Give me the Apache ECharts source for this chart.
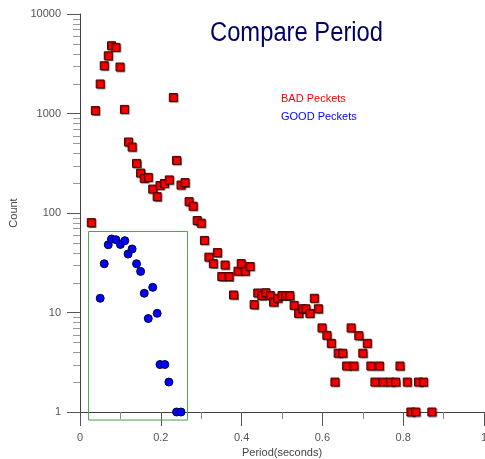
<!DOCTYPE html>
<html>
<head>
<meta charset="utf-8">
<script src="https://cdn.jsdelivr.net/npm/echarts@6/dist/echarts.min.js"></script>
<style>
  html, body { margin: 0; padding: 0; background: #fff; }
  #chart { width: 485px; height: 459px; }
</style>
</head>
<body>
<div id="chart"></div>
<script>
// BAD packets (red squares)
var badX = [0.028, 0.038, 0.050, 0.060, 0.070, 0.078, 0.089, 0.099, 0.110, 0.120,
  0.129, 0.140, 0.150, 0.159, 0.169, 0.180, 0.191, 0.198, 0.209, 0.221,
  0.231, 0.239, 0.250, 0.260, 0.270, 0.280, 0.290, 0.300, 0.308, 0.319,
  0.330, 0.340, 0.351, 0.359, 0.369, 0.380, 0.391, 0.399, 0.409, 0.421,
  0.431, 0.440, 0.450, 0.460, 0.471, 0.479, 0.489, 0.500, 0.509, 0.519,
  0.530, 0.541, 0.551, 0.559, 0.569, 0.580, 0.590, 0.599, 0.611, 0.622,
  0.631, 0.639, 0.650, 0.660, 0.671, 0.678, 0.690, 0.700, 0.711, 0.720,
  0.730, 0.741, 0.750, 0.768, 0.781, 0.792, 0.810, 0.819, 0.831, 0.838,
  0.850, 0.871];
var badY = [80, 1070, 1980, 3020, 3800, 4800, 4620, 2930, 1100, 517,
  460, 315, 252, 223, 228, 174, 146, 189, 198, 215,
  1450, 338, 191, 202, 130, 117, 84, 79, 53, 36,
  31, 40, 23, 30, 23, 15, 26, 31, 26, 29,
  12, 15.7, 14.8, 15.8, 14.8, 12.7, 13.9, 14.8, 14.8, 14.8,
  11.8, 9.8, 10.9, 10.9, 9.8, 13.9, 10.9, 7, 5.9, 4.9,
  2, 3.9, 3.9, 2.9, 7, 2.9, 5.85, 3.9, 4.9, 2.9,
  2, 2.9, 2, 2, 2, 2.9, 2, 1, 1, 2,
  2, 1];

// GOOD packets (blue circles)
var goodX = [0.050, 0.060, 0.070, 0.078, 0.089, 0.100, 0.111, 0.119, 0.129, 0.140,
  0.150, 0.159, 0.169, 0.180, 0.191, 0.198, 0.210, 0.220, 0.239, 0.250];
var goodY = [13.9, 30.9, 48, 54.8, 53.9, 48.3, 52.7, 38.7, 43.5, 30.9,
  25.9, 15.6, 8.7, 17.9, 9.8, 3, 3, 2, 1, 1];

// green selection box: [x0, y0, x1, y1]
var boxRange = [0.02, 0.84, 0.265, 66];

var yTicks = [1, 10, 100, 1000, 10000];
var xTicks = [0, 0.2, 0.4, 0.6, 0.8, 1];

// log minor tick positions (2..9 in each decade)
var yMinor = [];
for (var d = 1; d < 10000; d *= 10) {
  for (var m = 2; m <= 9; m++) yMinor.push([0, m * d]);
}

function zip(xs, ys) {
  return xs.map(function (x, i) { return [x, ys[i]]; });
}

var myChart = echarts.init(document.getElementById('chart'));

var option = {
  animation: false,
  // title drawn as graphic text so it can be squeezed a bit (narrow look)
  graphic: [{
    type: 'text',
    left: 210,
    top: 20,
    scaleX: 0.88,
    style: {
      text: 'Compare Period',
      fill: '#000066',
      font: '27px "Liberation Sans"'
    }
  }],
  legend: {
    orient: 'vertical',
    left: 276,
    top: 92,
    padding: 0,
    icon: 'none',
    itemWidth: 0,
    itemHeight: 14,
    itemGap: 5,
    textStyle: { fontSize: 11, fontFamily: 'Liberation Sans' },
    data: [
      { name: 'BAD Peckets', textStyle: { color: '#ff0000' } },
      { name: 'GOOD Peckets', textStyle: { color: '#0000ff' } }
    ]
  },
  grid: {
    left: 80,
    right: 1,
    top: 14,
    bottom: 47,
    containLabel: false,
    outerBoundsMode: 'none'
  },
  xAxis: {
    type: 'value',
    min: xTicks[0],
    max: xTicks[xTicks.length - 1],
    interval: 0.2,
    name: 'Period(seconds)',
    nameLocation: 'middle',
    nameGap: 34,
    nameTextStyle: { color: '#444', fontSize: 11, fontFamily: 'Liberation Sans', verticalAlign: 'top' },
    axisLine: { lineStyle: { color: '#404040' } },
    axisTick: { length: 14, lineStyle: { color: '#555' } },
    minorTick: { show: true, splitNumber: 2, length: 7, lineStyle: { color: '#888' } },
    splitLine: { show: false },
    axisLabel: {
      margin: 20,
      color: '#555',
      fontSize: 11,
      fontFamily: 'Liberation Sans',
      formatter: function (v) { return String(v); }
    }
  },
  yAxis: {
    type: 'log',
    logBase: 10,
    min: yTicks[0],
    max: yTicks[yTicks.length - 1],
    name: 'Count',
    nameLocation: 'middle',
    nameGap: 57,
    nameTextStyle: { color: '#444', fontSize: 11, fontFamily: 'Liberation Sans' },
    axisLine: { show: true, lineStyle: { color: '#404040' } },
    axisTick: { show: true, length: 13, lineStyle: { color: '#555' } },
    splitLine: { show: false },
    axisLabel: {
      margin: 19,
      color: '#555',
      fontSize: 11,
      fontFamily: 'Liberation Sans',
      formatter: function (v) { return String(v); }
    }
  },
  series: [
    {
      name: 'box',
      type: 'custom',
      clip: false,
      silent: true,
      z: 1,
      encode: { x: [0, 2], y: [1, 3] },
      data: [boxRange],
      renderItem: function (params, api) {
        var p0 = api.coord([api.value(0), api.value(1)]);
        var p1 = api.coord([api.value(2), api.value(3)]);
        return {
          type: 'rect',
          shape: { x: p0[0] + 0.5, y: p1[1] + 0.5, width: p1[0] - p0[0], height: p0[1] - p1[1] },
          style: { fill: 'none', stroke: '#4a9e4a', lineWidth: 1 }
        };
      }
    },
    {
      name: 'minorTicks',
      type: 'custom',
      clip: false,
      silent: true,
      z: 1,
      encode: { x: 0, y: 1 },
      data: yMinor,
      renderItem: function (params, api) {
        var p = api.coord([api.value(0), api.value(1)]);
        var y = Math.round(p[1]) + 0.5;
        return {
          type: 'line',
          shape: { x1: p[0] - 7, y1: y, x2: p[0], y2: y },
          style: { stroke: '#999', lineWidth: 1 }
        };
      }
    },
    {
      name: 'BAD Peckets',
      type: 'scatter',
      symbol: 'rect',
      symbolSize: 8,
      clip: false,
      z: 3,
      data: zip(badX, badY),
      itemStyle: {
        color: '#ff0000',
        borderColor: '#4a0000',
        borderWidth: 1,
        opacity: 1,
        shadowColor: 'rgba(0,0,0,0.45)',
        shadowBlur: 1,
        shadowOffsetX: 1,
        shadowOffsetY: 1
      }
    },
    {
      name: 'GOOD Peckets',
      type: 'scatter',
      symbol: 'circle',
      symbolSize: 8,
      clip: false,
      z: 3,
      data: zip(goodX, goodY),
      itemStyle: {
        color: '#0000ff',
        borderColor: '#00003a',
        borderWidth: 1,
        opacity: 1
      }
    }
  ]
};

myChart.setOption(option);
</script>
</body>
</html>
